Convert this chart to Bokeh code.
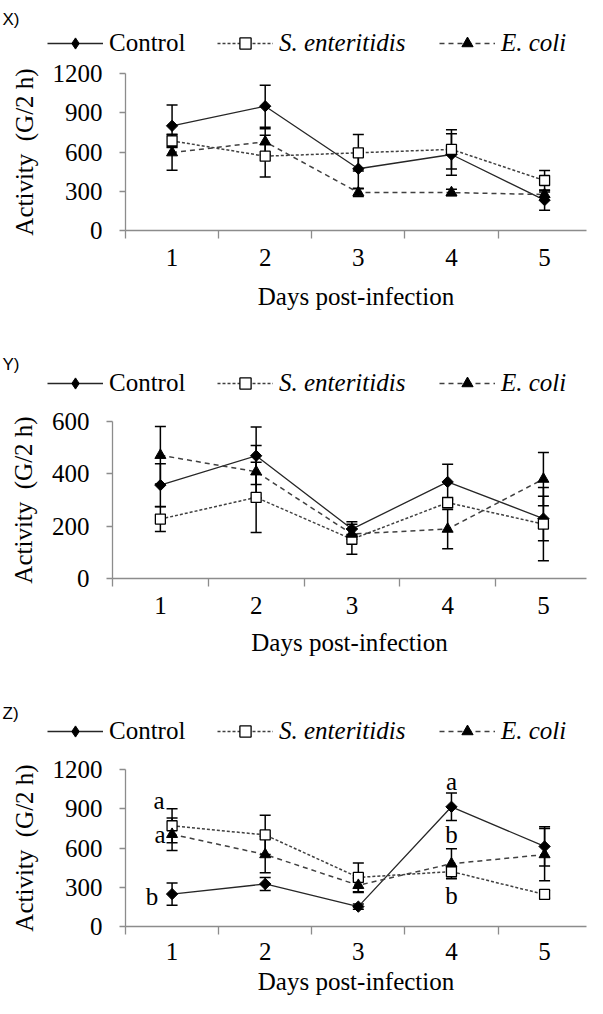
import math
from bokeh.plotting import figure
from bokeh.models import (Range1d, FixedTicker, Whisker, TeeHead, ColumnDataSource,
                          Legend, LegendItem, Label)
from bokeh.core.properties import value
from bokeh.embed import file_html
from bokeh.resources import INLINE

# ---------------- data ----------------
days = [1, 2, 3, 4, 5]
day_labels = ["1", "2", "3", "4", "5"]
day_bounds = [0.5, 1.5, 2.5, 3.5, 4.5, 5.5]
series_names = ["Control", "S. enteritidis", "E. coli"]
x_axis_title = "Days post-infection"
y_axis_title = "Activity\u00a0\u00a0(G/2 h)"

# Panel X
x_control = [800, 950, 472, 581, 232]
x_control_err = [160, 160, 150, 158, 77]
x_sent = [685, 568, 594, 620, 382]
x_sent_err = [50, 160, 140, 150, 77]
x_ecoli = [595, 678, 290, 290, 275]
x_ecoli_err = [135, 100, 30, 25, 20]
x_yticks = [0, 300, 600, 900, 1200]

# Panel Y
y_control = [357, 469, 189, 369, 229]
y_control_err = [82, 110, 28, 68, 85]
y_sent = [227, 310, 150, 290, 208]
y_sent_err = [47, 134, 57, 20, 140]
y_ecoli = [471, 408, 170, 189, 380]
y_ecoli_err = [110, 100, 20, 75, 102]
y_yticks = [0, 200, 400, 600]

# Panel Z
z_control = [248, 325, 152, 915, 612]
z_control_err = [85, 50, 20, 105, 150]
z_sent = [770, 700, 375, 420, 245]
z_sent_err = [130, 150, 110, 40, 30]
z_ecoli = [705, 550, 315, 480, 550]
z_ecoli_err = [125, 140, 55, 115, 200]
z_yticks = [0, 300, 600, 900, 1200]

# significance letters in panel Z
z_letters = ["a", "a", "b", "a", "b", "b"]
z_letter_day = [1, 1, 1, 4, 4, 4]
z_letter_val = [960, 700, 230, 1110, 700, 235]

# ---------------- styling ----------------
SERIF = "Liberation Serif"
SANS = "Liberation Sans"
FS = "25px"
AXIS_GRAY = "#8c8c8c"
W = 587

STYLE_CTRL_LINE = dict(line_color="#262626", line_width=1.3)
STYLE_SENT_LINE = dict(line_color="#404040", line_width=1.5, line_dash="3 2")
STYLE_ECOLI_LINE = dict(line_color="#404040", line_width=1.5, line_dash="5 4")
STYLE_CTRL_MK = dict(marker="square", size=8, angle=math.pi / 4, fill_color="black",
                     line_color="black")
STYLE_CTRL_MK_LEGEND = dict(marker="diamond", fill_color="black", line_color="black")
STYLE_SENT_MK = dict(marker="square", size=10, fill_color="white", line_color="black",
                     line_width=1.3)
STYLE_ECOLI_MK = dict(marker="triangle", size=11, fill_color="black", line_color="black")


def make_legend_fig(tag, height, legend_rel_y, tag_rel_y):
    lf = figure(width=W, height=height, x_range=Range1d(0, W), y_range=Range1d(0, height),
                x_axis_type=None, y_axis_type=None, output_backend="svg",
                toolbar_location=None, min_border=0, min_border_left=0,
                min_border_right=0, min_border_top=0, min_border_bottom=0)
    lf.outline_line_color = None
    # legend-only renderers (placed outside the visible range)
    hx, hy = [-1000], [-1000]
    rends = [
        [lf.line(x=hx, y=hy, **STYLE_CTRL_LINE),
         lf.scatter(x=hx, y=hy, **STYLE_CTRL_MK_LEGEND)],
        [lf.line(x=hx, y=hy, **STYLE_SENT_LINE), lf.scatter(x=hx, y=hy, **STYLE_SENT_MK)],
        [lf.line(x=hx, y=hy, **STYLE_ECOLI_LINE), lf.scatter(x=hx, y=hy, **STYLE_ECOLI_MK)],
    ]
    legend_starts = [55, 225, 447]
    styles = ["normal", "italic", "italic"]
    for name, r, xs, st in zip(series_names, rends, legend_starts, styles):
        lg = Legend(items=[LegendItem(label=name, renderers=r)],
                    location=(xs - 8, height - legend_rel_y - 23),
                    orientation="horizontal", glyph_width=56, glyph_height=28,
                    label_standoff=6, label_text_font=SERIF, label_text_font_size=FS,
                    label_text_font_style=st, label_text_color="black",
                    padding=0, margin=0, border_line_color=None,
                    background_fill_alpha=0)
        lf.add_layout(lg, "center")
    lf.add_layout(Label(x=2, y=height - tag_rel_y, x_units="screen", y_units="screen",
                        text=tag, text_font=SANS, text_font_size="17px",
                        text_baseline="middle", text_color="black"))
    return lf


def make_panel(ctrl, ctrl_err, sent, sent_err, ecoli, ecoli_err, yticks,
               height, b_top, b_bottom, b_left, lab_std, title_std):
    ymax = yticks[-1]
    p = figure(width=W, height=height, x_range=Range1d(0.5, 5.45),
               y_range=Range1d(0, ymax), output_backend="svg", toolbar_location=None,
               min_border_left=b_left, min_border_right=1, min_border_top=b_top,
               min_border_bottom=b_bottom, background_fill_color="white",
               border_fill_color="white")
    p.outline_line_color = None
    p.xgrid.visible = False
    p.ygrid.visible = False

    # x axis
    xa = p.xaxis[0]
    xa.ticker = FixedTicker(ticks=days, minor_ticks=day_bounds)
    xa.major_label_overrides = {d: l for d, l in zip(days, day_labels)}
    xa.major_tick_line_color = None
    xa.major_tick_out = 8
    xa.major_tick_in = 0
    xa.minor_tick_out = 8
    xa.minor_tick_in = 0
    xa.minor_tick_line_color = AXIS_GRAY
    xa.minor_tick_line_width = 1.3
    xa.axis_line_color = AXIS_GRAY
    xa.axis_line_width = 1.3
    xa.major_label_text_font = SERIF
    xa.major_label_text_font_size = FS
    xa.major_label_text_color = "black"
    xa.major_label_standoff = lab_std
    xa.axis_label = x_axis_title
    xa.axis_label_text_font = SERIF
    xa.axis_label_text_font_size = FS
    xa.axis_label_text_font_style = "normal"
    xa.axis_label_text_color = "black"
    xa.axis_label_standoff = title_std

    # y axis
    ya = p.yaxis[0]
    ya.ticker = FixedTicker(ticks=yticks)
    ya.major_tick_out = 6
    ya.major_tick_in = 0
    ya.major_tick_line_color = AXIS_GRAY
    ya.major_tick_line_width = 1.3
    ya.minor_tick_line_color = None
    ya.axis_line_color = AXIS_GRAY
    ya.axis_line_width = 1.3
    ya.major_label_text_font = SERIF
    ya.major_label_text_font_size = FS
    ya.major_label_text_color = "black"
    ya.major_label_standoff = 17
    ya.axis_label = y_axis_title
    ya.axis_label_text_font = SERIF
    ya.axis_label_text_font_size = FS
    ya.axis_label_text_font_style = "normal"
    ya.axis_label_text_color = "black"
    ya.axis_label_standoff = 12

    # lines
    p.line(days, ctrl, **STYLE_CTRL_LINE)
    p.line(days, sent, **STYLE_SENT_LINE)
    p.line(days, ecoli, **STYLE_ECOLI_LINE)

    # error bars
    for vals, errs in ((ctrl, ctrl_err), (sent, sent_err), (ecoli, ecoli_err)):
        src = ColumnDataSource(dict(x=days,
                                    upper=[v + e for v, e in zip(vals, errs)],
                                    lower=[v - e for v, e in zip(vals, errs)]))
        w = Whisker(source=src, base="x", upper="upper", lower="lower",
                    line_color="black", line_width=1.5,
                    upper_head=TeeHead(size=11, line_color="black", line_width=1.5),
                    lower_head=TeeHead(size=11, line_color="black", line_width=1.5))
        p.add_layout(w)

    # markers
    p.scatter(days, ctrl, **STYLE_CTRL_MK)
    p.scatter(days, sent, **STYLE_SENT_MK)
    p.scatter(days, ecoli, **STYLE_ECOLI_MK)
    return p


# layout (page y): X legend 8-66, X 66-330, Y legend 330-410, Y 410-675,
# Z legend 675-760, Z 760-1006
lX = make_legend_fig("X)", 58, 42 - 8, 27 - 8)
pX = make_panel(x_control, x_control_err, x_sent, x_sent_err, x_ecoli, x_ecoli_err,
                x_yticks, height=264, b_top=15, b_bottom=92, b_left=125,
                lab_std=10, title_std=14)
lY = make_legend_fig("Y)", 80, 382 - 330, 372 - 330)
pY = make_panel(y_control, y_control_err, y_sent, y_sent_err, y_ecoli, y_ecoli_err,
                y_yticks, height=265, b_top=19, b_bottom=89, b_left=112,
                lab_std=10, title_std=12)
lZ = make_legend_fig("Z)", 85, 730 - 675, 721 - 675)
pZ = make_panel(z_control, z_control_err, z_sent, z_sent_err, z_ecoli, z_ecoli_err,
                z_yticks, height=246, b_top=17, b_bottom=72, b_left=125,
                lab_std=8, title_std=5)

# significance letters
letter_dx = [-13, -12, -20, 0, 0, 0]
pZ.text(x=z_letter_day, y=z_letter_val, text=z_letters, x_offset=letter_dx,
        text_font=value(SERIF), text_font_size=FS, text_align="center",
        text_baseline="middle", text_color="black")

# separate roots so that the plot frames are not aligned with each other
roots = [lX, pX, lY, pY, lZ, pZ]
open("out.html", "w").write(file_html(roots, INLINE))
